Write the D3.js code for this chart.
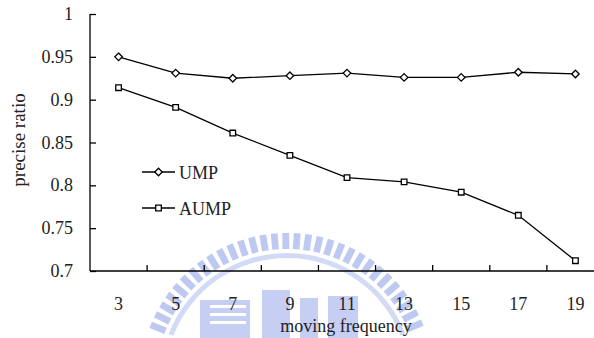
<!DOCTYPE html>
<html>
<head>
<meta charset="utf-8">
<script src="https://cdn.jsdelivr.net/npm/d3@7"></script>
<style>
html,body{margin:0;padding:0;background:#fff;}
svg{display:block;}
text{font-family:"Liberation Serif","Times New Roman",serif;fill:#222;}
</style>
</head>
<body>
<svg id="chart" width="594" height="338"></svg>
<script>
const categories = ["3","5","7","9","11","13","15","17","19"];
const umpValues  = [0.950,0.931,0.925,0.928,0.931,0.926,0.926,0.932,0.930];
const aumpValues = [0.914,0.891,0.861,0.835,0.809,0.804,0.792,0.765,0.712];
const yTicks = [0.7,0.75,0.8,0.85,0.9,0.95,1];
const yTickLabels = ["0.7","0.75","0.8","0.85","0.9","0.95","1"];
const seriesNames = ["UMP","AUMP"];

(function(){
const svg = d3.select("#chart");
const mLeft = 90, mTop = 14, mBottom = 271, mRight = 604;

const x = d3.scaleBand().domain(categories).range([mLeft, mRight]).padding(0);
const y = d3.scaleLinear().domain([0.7, 1]).range([mBottom, mTop]);

// faint watermark (background logo)
const wm = svg.append("g").attr("opacity", 0.5);
const cx = 287, cy = 380;
const teeth = d3.range(-68, 69, 4.5);
wm.selectAll("rect.tooth").data(teeth).enter().append("rect")
  .attr("x", -3.4).attr("y", -147).attr("width", 6.8).attr("height", 16)
  .attr("fill", "#7f95e6")
  .attr("transform", d => `translate(${cx},${cy}) rotate(${d})`);
wm.append("path")
  .attr("d", d3.arc()({innerRadius:122, outerRadius:127, startAngle:-1.2, endAngle:1.2}))
  .attr("transform", `translate(${cx},${cy})`)
  .attr("fill", "#a8b6ef");
const blocks = [[200,300,50,38],[262,290,28,48],[300,298,18,40],[328,296,30,42],[210,305,36,3],[210,313,36,3],[210,321,36,3]];
wm.selectAll("rect.blk").data(blocks).enter().append("rect")
  .attr("x", d => d[0]).attr("y", d => d[1]).attr("width", d => d[2]).attr("height", d => d[3])
  .attr("fill", (d,i) => i >= 4 ? "#ffffff" : "#8ea1e8");

// Y axis
const yAxis = d3.axisRight(y).tickValues(yTicks).tickSize(6).tickFormat("");
const gy = svg.append("g").attr("transform", `translate(${mLeft},0)`).call(yAxis);
gy.select(".domain").attr("stroke", "#000").attr("stroke-width", 1.3).attr("d", `M0,${mTop}V${mBottom}`);
gy.selectAll(".tick line").attr("stroke", "#000").attr("stroke-width", 1.3);
svg.append("g").selectAll("text").data(yTicks).enter().append("text")
  .attr("x", 73).attr("y", d => y(d) + 6)
  .attr("text-anchor", "end").attr("font-size", 18)
  .text((d,i) => yTickLabels[i]);

// X axis
const boundaries = categories.slice(1).map(c => x(c));
const gx = svg.append("g").attr("transform", `translate(0,${mBottom})`);
gx.append("line").attr("x1", mLeft).attr("x2", mRight).attr("y1", 0).attr("y2", 0)
  .attr("stroke", "#000").attr("stroke-width", 1.3);
gx.selectAll("line.tk").data(boundaries).enter().append("line")
  .attr("x1", d => d).attr("x2", d => d).attr("y1", 0).attr("y2", -6)
  .attr("stroke", "#000").attr("stroke-width", 1.3);
gx.selectAll("text").data(categories).enter().append("text")
  .attr("x", d => x(d) + x.bandwidth()/2).attr("y", 39)
  .attr("text-anchor", "middle").attr("font-size", 18)
  .text(d => d);

// axis titles
svg.append("text").attr("x", 346).attr("y", 332).attr("text-anchor", "middle")
  .attr("font-size", 18).text("moving frequency");
svg.append("text").attr("transform", "translate(25,140) rotate(-90)")
  .attr("text-anchor", "middle").attr("font-size", 19).text("precise ratio");

// lines
const line = d3.line().x((d,i) => x(categories[i]) + x.bandwidth()/2).y(d => y(d));
svg.append("path").datum(umpValues).attr("d", line).attr("fill", "none")
  .attr("stroke", "#000").attr("stroke-width", 1.3);
svg.append("path").datum(aumpValues).attr("d", line).attr("fill", "none")
  .attr("stroke", "#000").attr("stroke-width", 1.3);

const diamond = d3.symbol().type(d3.symbolDiamond2).size(36);
const square = d3.symbol().type(d3.symbolSquare2).size(40);

svg.append("g").selectAll("path").data(umpValues).enter().append("path")
  .attr("d", diamond)
  .attr("transform", (d,i) => `translate(${x(categories[i]) + x.bandwidth()/2},${y(d)})`)
  .attr("fill", "#fff").attr("stroke", "#000").attr("stroke-width", 1.3);
svg.append("g").selectAll("path").data(aumpValues).enter().append("path")
  .attr("d", square)
  .attr("transform", (d,i) => `translate(${x(categories[i]) + x.bandwidth()/2},${y(d)})`)
  .attr("fill", "#fff").attr("stroke", "#000").attr("stroke-width", 1.3);

// legend
const legendY = [172, 208];
const lg = svg.append("g");
seriesNames.forEach((name, i) => {
  const ly = legendY[i];
  lg.append("line").attr("x1", 142).attr("x2", 175).attr("y1", ly).attr("y2", ly)
    .attr("stroke", "#000").attr("stroke-width", 1.3);
  lg.append("path").attr("d", i === 0 ? diamond : square)
    .attr("transform", `translate(158.5,${ly})`)
    .attr("fill", "#fff").attr("stroke", "#000").attr("stroke-width", 1.3);
  lg.append("text").attr("x", 179).attr("y", ly + 7).attr("font-size", 18).text(name);
});
})();
</script>
</body>
</html>
